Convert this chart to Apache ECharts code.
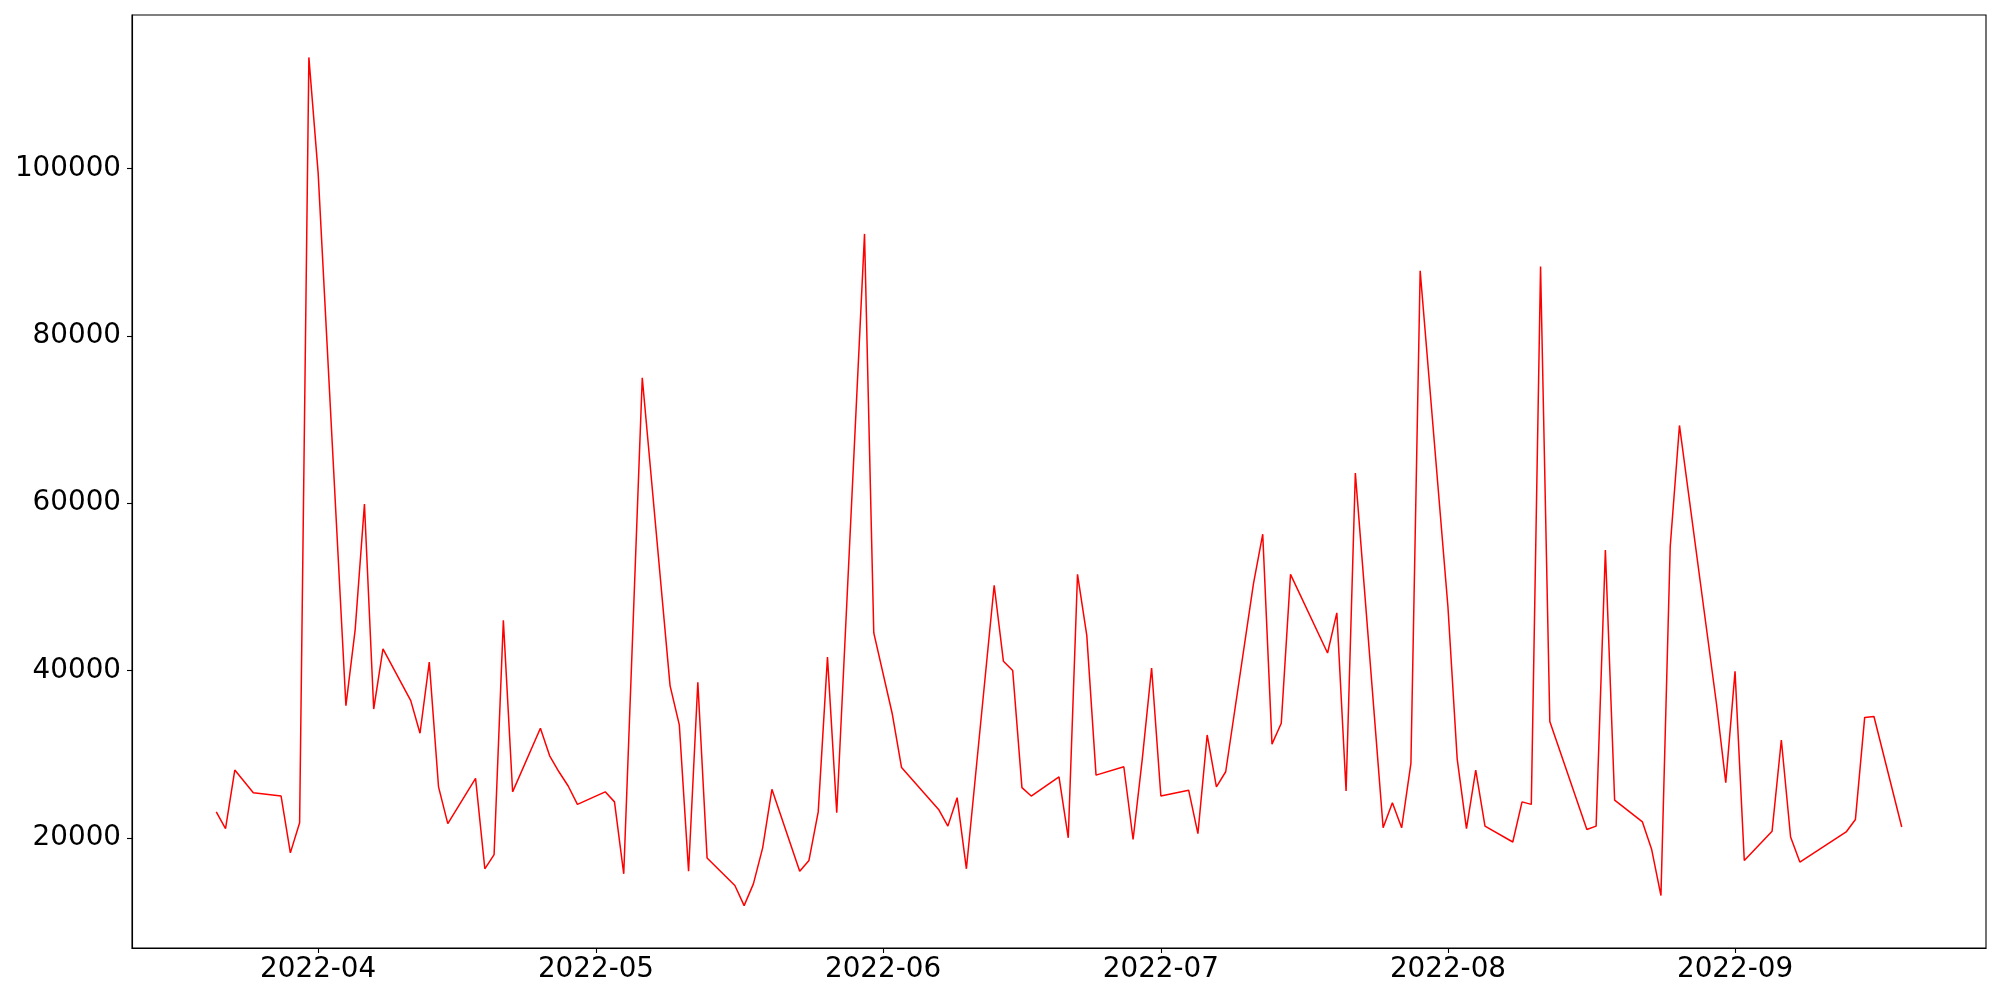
<!DOCTYPE html>
<html>
<head>
<meta charset="utf-8">
<script src="https://cdn.jsdelivr.net/npm/echarts@6/dist/echarts.min.js"></script>
<style>
  html, body { margin: 0; padding: 0; background: #fff; }
  #chart { width: 2000px; height: 1000px; }
</style>
</head>
<body>
<div id="chart"></div>
<script>
// ---- data ----
const dates = [
  '2022-03-21','2022-03-22','2022-03-23','2022-03-25','2022-03-28','2022-03-29','2022-03-30','2022-03-31',
  '2022-04-01','2022-04-04','2022-04-05','2022-04-06','2022-04-07','2022-04-08','2022-04-11','2022-04-12',
  '2022-04-13','2022-04-14','2022-04-15','2022-04-18','2022-04-19','2022-04-20','2022-04-21','2022-04-22',
  '2022-04-25','2022-04-26','2022-04-27','2022-04-28','2022-04-29','2022-05-02','2022-05-03','2022-05-04',
  '2022-05-06','2022-05-09','2022-05-10','2022-05-11','2022-05-12','2022-05-13','2022-05-16','2022-05-17',
  '2022-05-18','2022-05-19','2022-05-20','2022-05-23','2022-05-24','2022-05-25','2022-05-26','2022-05-27',
  '2022-05-30','2022-05-31','2022-06-02','2022-06-03','2022-06-07','2022-06-08','2022-06-09','2022-06-10',
  '2022-06-13','2022-06-14','2022-06-15','2022-06-16','2022-06-17','2022-06-20','2022-06-21','2022-06-22',
  '2022-06-23','2022-06-24','2022-06-27','2022-06-28','2022-06-29','2022-06-30','2022-07-01','2022-07-04',
  '2022-07-05','2022-07-06','2022-07-07','2022-07-08','2022-07-11','2022-07-12','2022-07-13','2022-07-14',
  '2022-07-15','2022-07-19','2022-07-20','2022-07-21','2022-07-22','2022-07-25','2022-07-26','2022-07-27',
  '2022-07-28','2022-07-29','2022-08-01','2022-08-02','2022-08-03','2022-08-04','2022-08-05','2022-08-08',
  '2022-08-09','2022-08-10','2022-08-11','2022-08-12','2022-08-16','2022-08-17','2022-08-18','2022-08-19',
  '2022-08-22','2022-08-23','2022-08-24','2022-08-25','2022-08-26','2022-08-30','2022-08-31','2022-09-01',
  '2022-09-02','2022-09-05','2022-09-06','2022-09-07','2022-09-08','2022-09-13','2022-09-14','2022-09-15',
  '2022-09-16','2022-09-19'
];
const values = [
  23100, 21100, 28100, 25400, 25000, 18200, 21800, 113300,
  99500, 35800, 44900, 59900, 35400, 42600, 36400, 32500,
  41000, 26100, 21700, 27100, 16300, 18000, 46000, 25500,
  33100, 29800, 27900, 26200, 24000, 25500, 24300, 15700,
  75000, 38200, 33500, 16000, 38600, 17600, 14300, 11900,
  14500, 18800, 25800, 16000, 17300, 23100, 41600, 23000,
  92200, 44500, 34800, 28400, 23400, 21400, 24800, 16300,
  50200, 41100, 40000, 26000, 25000, 27300, 20000, 51500,
  44200, 27500, 28500, 19800, 29500, 40300, 25000, 25700,
  20500, 32300, 26100, 27900, 50400, 56300, 31200, 33700,
  51500, 42100, 46900, 25600, 63600, 21200, 24200, 21200,
  28900, 87800, 47600, 29400, 21100, 28100, 21400, 19500,
  24300, 24000, 88300, 33900, 21000, 21400, 54400, 24500,
  21900, 18600, 13100, 54800, 69300, 36000, 26600, 39900,
  17300, 20800, 31700, 20100, 17100, 20700, 22200, 34400,
  34500, 21300
];
const xTickLabels = ['2022-04','2022-05','2022-06','2022-07','2022-08','2022-09'];
const yTicks = [20000, 40000, 60000, 80000, 100000];

// ---- helpers ----
function toTs(s) {
  const p = s.split('-').map(Number);
  return new Date(p[0], p[1] - 1, p[2] || 1).getTime();
}
const ts = dates.map(toTs);
const seriesData = ts.map((t, i) => [t, values[i]]);
const xTickValues = xTickLabels.map(toTs);

const tMin = Math.min(...ts), tMax = Math.max(...ts);
const tPad = (tMax - tMin) * 0.05;
const vMin = Math.min(...values), vMax = Math.max(...values);
const vPad = (vMax - vMin) * 0.05;

function fmtMonth(v) {
  const d = new Date(v);
  return d.getFullYear() + '-' + String(d.getMonth() + 1).padStart(2, '0');
}

const chart = echarts.init(document.getElementById('chart'), null, { renderer: 'canvas' });
const labelStyle = { fontFamily: 'DejaVu Sans', fontSize: 27.8, color: '#000' };

chart.setOption({
  animation: false,
  backgroundColor: '#fff',
  grid: {
    left: 132, right: 14, top: 15, bottom: 52,
    show: true, borderColor: '#000', borderWidth: 1.1, backgroundColor: 'transparent'
  },
  xAxis: {
    type: 'value',
    min: tMin - tPad,
    max: tMax + tPad,
    splitLine: { show: false },
    axisLine: { show: true, onZero: false, lineStyle: { color: '#000', width: 1.1 } },
    axisTick: { show: true, inside: false, length: 5, lineStyle: { color: '#000', width: 1.1 }, customValues: xTickValues },
    axisLabel: Object.assign({ margin: 8, customValues: xTickValues, formatter: fmtMonth }, labelStyle)
  },
  yAxis: {
    type: 'value',
    min: vMin - vPad,
    max: vMax + vPad,
    splitLine: { show: false },
    axisLine: { show: true, onZero: false, lineStyle: { color: '#000', width: 1.1 } },
    axisTick: { show: true, inside: false, length: 5, lineStyle: { color: '#000', width: 1.1 }, customValues: yTicks },
    axisLabel: Object.assign({ margin: 11, customValues: yTicks, formatter: v => String(v) }, labelStyle)
  },
  series: [{
    type: 'line',
    data: seriesData,
    showSymbol: false,
    symbol: 'none',
    lineStyle: { color: '#ff0000', width: 1.5 },
    itemStyle: { color: '#ff0000' }
  }]
});
</script>
</body>
</html>
